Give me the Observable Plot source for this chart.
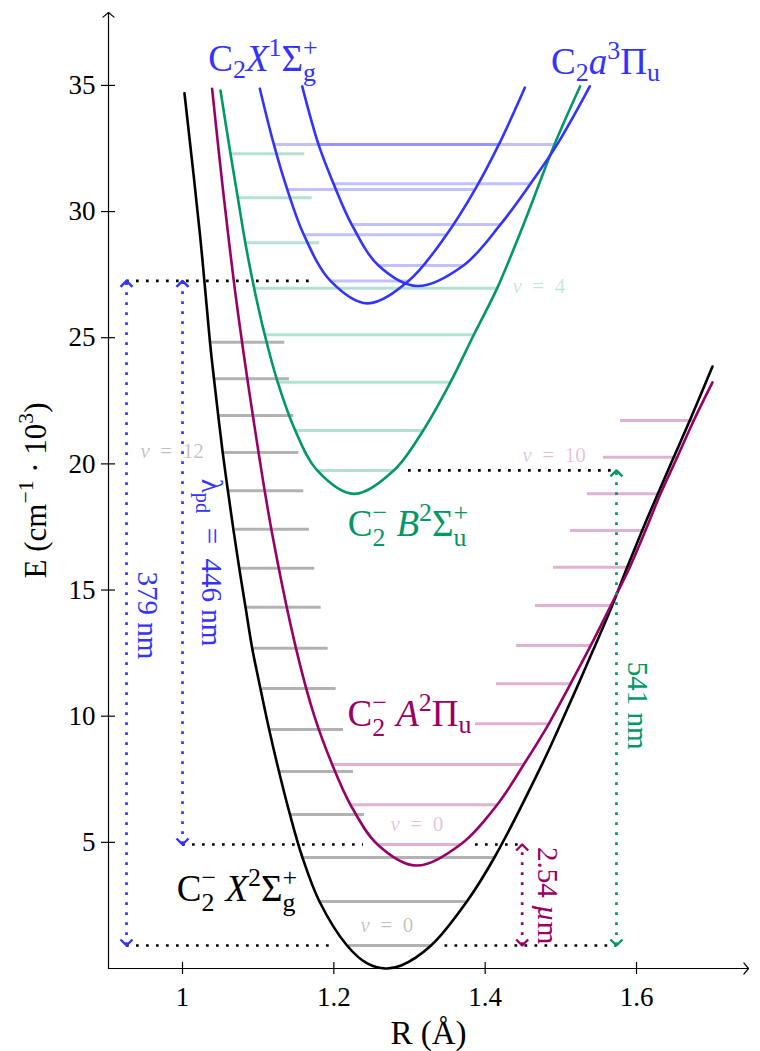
<!DOCTYPE html>
<html>
<head>
<meta charset="utf-8">
<script src="https://cdn.jsdelivr.net/npm/d3@7"></script>
<script src="https://cdn.jsdelivr.net/npm/@observablehq/plot@0.6"></script>
<style>
  body { margin: 0; background: #fff; }
  #chart svg { display: block; }
</style>
</head>
<body>
<div id="chart"></div>
<script>
// Potential energy curves of C2- and C2: internuclear distance R (Å) vs energy E (10^3 cm^-1)

const xDomain = [0.9022, 1.748];
const yDomain = [0, 37.89];
const xTicks = [1, 1.2, 1.4, 1.6];
const yTicks = [5, 10, 15, 20, 25, 30, 35];

const black = "#000000", purple = "#990066", green = "#009966", blue = "#3333ff";

// Curve samples [R, E]
const anionXCurve = [
  [1.0026, 34.69], [1.0230, 29.12], [1.0363, 24.825], [1.0416, 23.374], [1.0472, 21.919],
  [1.0531, 20.453], [1.0600, 18.935], [1.0672, 17.413], [1.0750, 15.867], [1.0833, 14.321],
  [1.0921, 12.696], [1.1030, 11.098], [1.1145, 9.473], [1.1275, 7.809], [1.1420, 6.104],
  [1.1585, 4.400], [1.1810, 2.656], [1.2174, 0.912], [1.2441, 0.20], [1.2683, 0.0],
  [1.2890, 0.12], [1.3285, 0.912], [1.3758, 2.656], [1.4122, 4.400], [1.4754, 8.11],
  [1.5007, 9.76], [1.5233, 11.28], [1.5424, 12.60], [1.5679, 14.39], [1.5877, 15.90],
  [1.6075, 17.36], [1.6281, 18.81], [1.6493, 20.27], [1.6704, 21.72], [1.7004, 23.86]
];
const anionACurve = [
  [1.0391, 34.87], [1.0531, 30.97], [1.0711, 26.48], [1.0967, 21.19], [1.1185, 17.23],
  [1.1507, 12.60], [1.1747, 9.96], [1.1978, 8.086], [1.2220, 6.489], [1.2577, 4.915],
  [1.3086, 4.08], [1.3674, 4.915], [1.4159, 6.489], [1.4510, 8.086], [1.4841, 9.699],
  [1.5128, 11.285], [1.5396, 12.803], [1.5661, 14.388], [1.5911, 15.906], [1.6119, 17.361],
  [1.6317, 18.815], [1.6538, 20.266], [1.6757, 21.721], [1.7004, 23.23]
];
const anionBCurve = [
  [1.0502, 34.80], [1.0634, 32.292], [1.0731, 30.548], [1.0830, 28.764], [1.0947, 26.965],
  [1.1087, 25.118], [1.1258, 23.239], [1.1490, 21.325], [1.1780, 19.739], [1.2264, 18.81],
  [1.2792, 19.739], [1.3181, 21.325], [1.3542, 23.239], [1.3850, 25.118], [1.4159, 26.965],
  [1.4510, 29.51], [1.4920, 32.69], [1.5254, 34.96]
];
const neutralXCurve = [
  [1.1022, 34.87], [1.1207, 32.661], [1.1384, 30.877], [1.1603, 29.081], [1.1956, 27.25],
  [1.2441, 26.36], [1.2987, 27.25], [1.3489, 29.081], [1.3867, 30.877], [1.4181, 32.661],
  [1.4524, 34.91]
];
const neutralACurve = [
  [1.1582, 34.96], [1.1797, 32.661], [1.1996, 31.103], [1.2235, 29.49], [1.2590, 27.865],
  [1.3102, 27.05], [1.3713, 27.865], [1.4203, 29.49], [1.4599, 31.103], [1.4952, 32.661],
  [1.5383, 34.96]
];

// Vibrational levels [E, R start, R end]
const anionXLevels = [
  [0.912, 1.2194, 1.3285], [2.656, 1.1824, 1.3758], [4.400, 1.1599, 1.4122],
  [6.104, 1.1440, 1.2405], [7.809, 1.1295, 1.2260], [9.473, 1.1163, 1.2128],
  [11.098, 1.1053, 1.2031], [12.696, 1.0938, 1.1925], [14.321, 1.0855, 1.1833],
  [15.867, 1.0766, 1.1748], [17.413, 1.0700, 1.1678], [18.935, 1.0612, 1.1603],
  [20.453, 1.0555, 1.1537], [21.919, 1.0493, 1.1471], [23.374, 1.0436, 1.1414],
  [24.825, 1.0383, 1.1352]
];
const anionALevels = [
  [4.915, 1.2577, 1.3674], [6.489, 1.2220, 1.4159], [8.086, 1.1978, 1.4510],
  [9.699, 1.3872, 1.4841], [11.285, 1.4150, 1.5128], [12.803, 1.4414, 1.5396],
  [14.388, 1.4665, 1.5661], [15.906, 1.4903, 1.5911], [17.361, 1.5128, 1.6119],
  [18.815, 1.5352, 1.6317], [20.266, 1.5564, 1.6538], [21.721, 1.5788, 1.6757]
];
const anionBLevels = [
  [19.739, 1.1780, 1.2792], [21.325, 1.1490, 1.3181], [23.239, 1.1258, 1.3542],
  [25.118, 1.1087, 1.3850], [26.965, 1.0947, 1.4159], [28.764, 1.0830, 1.1814],
  [30.548, 1.0731, 1.1714], [32.292, 1.0634, 1.1616]
];
const neutralXLevels = [
  [27.25, 1.1956, 1.2987], [29.081, 1.1603, 1.3489], [30.877, 1.1384, 1.3867], [32.661, 1.1207, 1.4181]
];
const neutralALevels = [
  [27.865, 1.2590, 1.3713], [29.490, 1.2235, 1.4203], [31.103, 1.1996, 1.4599], [32.661, 1.1797, 1.4952]
];

// Dotted reference levels [E, R start, R end]
const guideLevels = [
  [27.25, 0.926, 1.1731],
  [4.915, 1.0, 1.2392], [4.915, 1.3872, 1.4489],
  [0.912, 0.926, 1.2000], [0.912, 1.3469, 1.5735],
  [19.739, 1.2987, 1.5735]
];

// Vertical transitions
const transitions = [
  {R: 0.926, E1: 0.912, E2: 27.25, color: blue},
  {R: 1.0, E1: 4.915, E2: 27.25, color: blue},
  {R: 1.4489, E1: 0.912, E2: 4.915, color: purple},
  {R: 1.5735, E1: 0.912, E2: 19.739, color: green}
];

// Text: _{..} subscript, ^{..} superscript, *..* italic
const stateLabels = [
  {label: "C_{2}*X*^{1}Σ^{+}_{g}", R: 1.1064, E: 35.59, color: blue},
  {label: "C_{2}*a*^{3}Π_{u}", R: 1.559, E: 35.46, color: blue},
  {label: "C^{−}_{2} *B*^{2}Σ^{+}_{u}", R: 1.298, E: 17.16, color: green},
  {label: "C^{−}_{2} *A*^{2}Π_{u}", R: 1.300, E: 9.63, color: purple},
  {label: "C^{−}_{2} *X*^{2}Σ^{+}_{g}", R: 1.072, E: 2.695, color: black}
];
const vLabels = [
  {label: "*v*\u2002=\u20024", R: 1.4361, E: 26.755, color: green},
  {label: "*v*\u2002=\u200212", R: 0.9445, E: 20.215, color: black},
  {label: "*v*\u2002=\u200210", R: 1.4493, E: 20.056, color: purple},
  {label: "*v*\u2002=\u20020", R: 1.2749, E: 5.430, color: purple},
  {label: "*v*\u2002=\u20020", R: 1.2352, E: 1.427, color: black}
];
const transitionLabels = [
  {label: "379 nm", R: 0.9537, E: 13.99, color: blue},
  {label: "λ_{pd}\u2002=\u2002446 nm", R: 1.0383, E: 16.09, color: blue},
  {label: "541 nm", R: 1.6013, E: 10.42, color: green},
  {label: "2.54 *µ*m", R: 1.4824, E: 2.89, color: purple}
];

// Open chevron, tip at the anchor point, opening downward
const chevron = {
  draw(context, size) {
    const r = Math.sqrt(size / Math.PI);
    context.moveTo(-r, r);
    context.lineTo(0, 0);
    context.lineTo(r, r);
  }
};

const curve = (pts, color) =>
  Plot.line(pts, {x: (d) => d[0], y: (d) => d[1], stroke: color, strokeWidth: 2.6, curve: "catmull-rom"});
const levels = (lv, color) =>
  Plot.ruleY(lv, {y: (d) => d[0], x1: (d) => d[1], x2: (d) => d[2], stroke: color, strokeOpacity: 0.3, strokeWidth: 3});
const dotted = {strokeWidth: 2.7, strokeDasharray: "2.7 7.3"};

const chart = Plot.plot({
  width: 760,
  height: 1051,
  marginTop: 12,
  marginBottom: 83,
  marginLeft: 108,
  marginRight: 12,
  x: {domain: xDomain},
  y: {domain: yDomain},
  color: {type: "identity"},
  style: {fontFamily: "'Liberation Serif', serif", background: "#fff", overflow: "visible"},
  marks: [
    levels(anionXLevels, black),
    levels(anionALevels, purple),
    levels(anionBLevels, green),
    levels(neutralXLevels, blue),
    levels(neutralALevels, blue),
    curve(anionXCurve, black),
    curve(anionACurve, purple),
    curve(anionBCurve, green),
    curve(neutralXCurve, blue),
    curve(neutralACurve, blue),
    Plot.ruleY(guideLevels, {y: (d) => d[0], x1: (d) => d[1], x2: (d) => d[2], stroke: black, ...dotted}),
    Plot.ruleX(transitions, {x: "R", y1: "E1", y2: "E2", stroke: "color", ...dotted}),
    Plot.dot(transitions, {x: "R", y: "E2", symbol: chevron, r: 6, stroke: "color", fill: "none", strokeWidth: 2.4, strokeLinejoin: "round"}),
    Plot.dot(transitions, {x: "R", y: "E1", symbol: chevron, r: 6, rotate: 180, stroke: "color", fill: "none", strokeWidth: 2.4, strokeLinejoin: "round"}),
    Plot.text(stateLabels, {x: "R", y: "E", text: "label", fill: "color", fontSize: 37, textAnchor: "middle", lineAnchor: "bottom"}),
    Plot.text(vLabels, {x: "R", y: "E", text: "label", fill: "color", fillOpacity: 0.25, fontSize: 21, textAnchor: "start", lineAnchor: "bottom"}),
    Plot.text(transitionLabels, {x: "R", y: "E", text: "label", fill: "color", fontSize: 29, rotate: 90, textAnchor: "middle", lineAnchor: "middle"}),
    // axes
    Plot.arrow([0], {x1: xDomain[0], x2: xDomain[1], y1: 0, y2: 0, stroke: black, strokeWidth: 1.2, headLength: 9, headAngle: 100}),
    Plot.arrow([0], {x1: xDomain[0], x2: xDomain[0], y1: 0, y2: yDomain[1], stroke: black, strokeWidth: 1.2, headLength: 9, headAngle: 100}),
    Plot.axisX(xTicks, {tickSize: 12, dy: -6, tickPadding: 12, fontSize: 27, strokeWidth: 1.2, tickFormat: (d) => `${d}`, label: null}),
    Plot.axisY(yTicks, {tickSize: 14, dx: 7, tickPadding: 6, fontSize: 27, strokeWidth: 1.2, tickFormat: (d) => `${d}`, label: null}),
    Plot.text(["R (Å)"], {frameAnchor: "bottom", dy: 65, fontSize: 33, lineAnchor: "middle", fill: black}),
    Plot.text(["E (cm^{−1} · 10^{3})"], {frameAnchor: "left", dx: -63, rotate: -90, fontSize: 31, textAnchor: "middle", lineAnchor: "bottom", fill: black})
  ]
});

document.getElementById("chart").append(chart);

// Turn the markup in text labels into tspans with sub/superscripts and italics
const SVGNS = "http://www.w3.org/2000/svg";
function parseMarkup(s) {
  const out = [];
  let i = 0, italic = false, buf = "";
  const flush = () => { if (buf) out.push({text: buf, italic, script: null}); buf = ""; };
  while (i < s.length) {
    const c = s[i];
    if (c === "*") { flush(); italic = !italic; i++; }
    else if ((c === "^" || c === "_") && s[i + 1] === "{") {
      flush();
      const j = s.indexOf("}", i);
      out.push({text: s.slice(i + 2, j), italic: false, script: c === "^" ? "sup" : "sub"});
      i = j + 1;
    } else { buf += c; i++; }
  }
  flush();
  return out;
}
function typeset(el) {
  const raw = el.textContent;
  if (!/[\^_]\{|\*/.test(raw)) return;
  const fs = parseFloat(getComputedStyle(el).fontSize);
  const parts = parseMarkup(raw);
  el.textContent = "";
  let offset = 0, pendingDx = 0, prev = null;
  for (const p of parts) {
    const t = document.createElementNS(SVGNS, "tspan");
    t.textContent = p.text;
    if (p.italic) t.setAttribute("font-style", "italic");
    let shift = 0;
    if (p.script) {
      t.setAttribute("font-size", 0.7 * fs);
      shift = p.script === "sup" ? -0.4 * fs : 0.2 * fs;
    }
    let dx = pendingDx;
    pendingDx = 0;
    const stacked = p.script && prev && prev.script !== p.script;
    if (stacked) {
      dx -= prev.width;
      shift = p.script === "sub" ? 0.27 * fs : -0.42 * fs;
    }
    if (dx) t.setAttribute("dx", dx);
    const dy = shift - offset;
    if (dy) t.setAttribute("dy", dy);
    offset = shift;
    el.appendChild(t);
    const w = t.getComputedTextLength();
    if (stacked) {
      if (prev.width > w) pendingDx = prev.width - w;
      prev = null;
    } else {
      prev = p.script ? {script: p.script, width: w} : null;
    }
  }
}
chart.querySelectorAll("text").forEach(typeset);
</script>
</body>
</html>
